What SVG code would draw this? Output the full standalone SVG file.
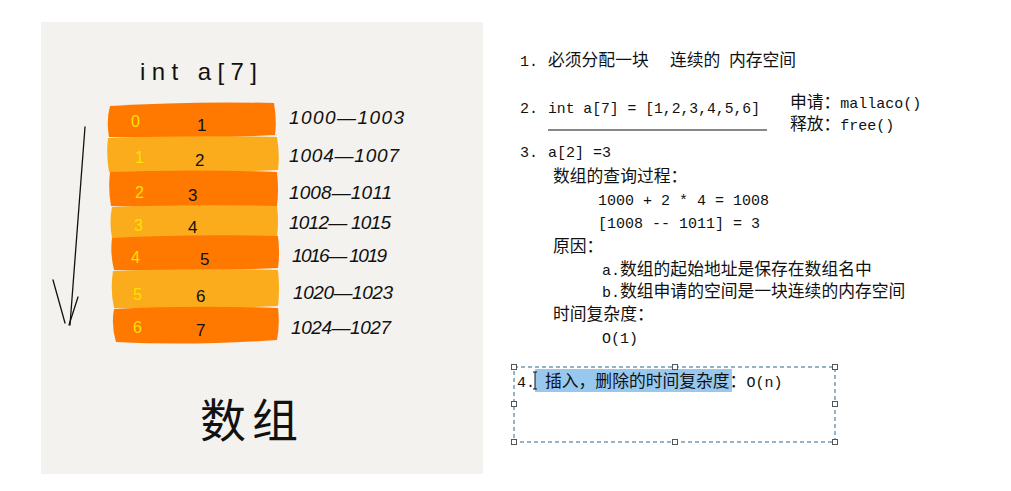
<svg xmlns="http://www.w3.org/2000/svg" width="1011" height="491" viewBox="0 0 1011 491">
<style>
.hand{font-family:"Liberation Sans","Noto Sans CJK SC",sans-serif;fill:#111}
.addr{font-family:"Liberation Sans",sans-serif;font-size:19px;fill:#111;font-style:italic}
.idx{font-family:"Liberation Sans",sans-serif;font-size:16px;fill:#ffe000}
.val{font-family:"Liberation Sans",sans-serif;font-size:17px;fill:#111}
.t{font-family:"Liberation Mono","Noto Sans CJK SC",monospace;font-size:15px;fill:#111}
.c{font-family:"Noto Sans CJK SC",sans-serif;font-size:16.8px}
.o{fill:#ff7800}
.y{fill:#fbac1c}
.h{fill:#fff;stroke:#555;stroke-width:1}
</style>
<rect x="0" y="0" width="1011" height="491" fill="#ffffff"/>
<g id="panel">
<rect x="41" y="22" width="442" height="452" fill="#f3f2ee"/>
<text class="hand" x="140" y="80" font-size="24" textLength="117" lengthAdjust="spacing">int a[7]</text>
</g>
<g id="bars">
<path class="o" d="M110,106 Q190,101 274,103 Q277,120 275,135 Q190,140 109,137 Q106,120 110,106 Z"/>
<path class="y" d="M108,138 Q190,135 277,137 Q280,155 278,170 Q190,174 109,172 Q106,155 108,138 Z"/>
<path class="o" d="M110,172 Q190,169 277,172 Q279,190 277,206 Q190,209 111,206 Q108,190 110,172 Z"/>
<path class="y" d="M112,207 Q190,204 277,206 Q279,222 277,237 Q190,240 112,238 Q109,222 112,207 Z"/>
<path class="o" d="M112,238 Q190,234 278,236 Q280,254 278,268 Q190,272 114,270 Q110,254 112,238 Z"/>
<path class="y" d="M113,271 Q190,268 278,270 Q280,290 278,306 Q190,310 114,308 Q110,290 113,271 Z"/>
<path class="o" d="M114,309 Q190,305 278,308 Q280,325 277,340 Q190,346 116,342 Q111,325 114,309 Z"/>
</g>
<g id="indices">
<text class="idx" x="131" y="127">0</text>
<text class="idx" x="135" y="163">1</text>
<text class="idx" x="135" y="198">2</text>
<text class="idx" x="134" y="231">3</text>
<text class="idx" x="131" y="263">4</text>
<text class="idx" x="133" y="300">5</text>
<text class="idx" x="133" y="333">6</text>
</g>
<g id="values">
<text class="val" x="197" y="131">1</text>
<text class="val" x="195" y="166">2</text>
<text class="val" x="188" y="201">3</text>
<text class="val" x="188" y="233">4</text>
<text class="val" x="200" y="265">5</text>
<text class="val" x="196" y="302">6</text>
<text class="val" x="196" y="336">7</text>
</g>
<g id="addresses">
<text class="addr" x="289" y="124" textLength="115" lengthAdjust="spacing">1000—1003</text>
<text class="addr" x="289" y="162" textLength="110" lengthAdjust="spacing">1004—1007</text>
<text class="addr" x="289" y="199" textLength="103" lengthAdjust="spacing">1008—1011</text>
<text class="addr" x="289" y="229" textLength="102" lengthAdjust="spacing">1012— 1015</text>
<text class="addr" x="292" y="262" textLength="95" lengthAdjust="spacing">1016— 1019</text>
<text class="addr" x="293" y="299" textLength="100" lengthAdjust="spacing">1020—1023</text>
<text class="addr" x="291" y="334" textLength="100" lengthAdjust="spacing">1024—1027</text>
</g>
<g id="connectors" fill="none" stroke="#111" stroke-width="1.3" stroke-linecap="round">
<path d="M85,127 L70,325"/>
<path d="M53,280 L65,323"/>
<path d="M78,297 L69,325"/>
</g>
<g id="caption">
<text class="hand" x="200" y="437" font-size="46" letter-spacing="6">数组</text>
</g>
<g id="notes">
<text class="t" x="520" y="66">1.</text>
<text class="t c" x="548" y="66">必须分配一块</text>
<text class="t c" x="670" y="66">连续的</text>
<text class="t c" x="729" y="66">内存空间</text>
<text class="t" x="520" y="113">2.</text>
<text class="t" x="548" y="113" textLength="212" lengthAdjust="spacingAndGlyphs">int a[7] = [1,2,3,4,5,6]</text>
<line x1="548" y1="130" x2="767" y2="130" stroke="#111" stroke-width="1"/>
<text class="t" x="790" y="108"><tspan class="c">申请：</tspan>mallaco()</text>
<text class="t" x="790" y="130"><tspan class="c">释放：</tspan>free()</text>
<text class="t" x="520" y="157">3.</text>
<text class="t" x="548" y="157">a[2] =3</text>
<text class="t c" x="553" y="182">数组的查询过程：</text>
<text class="t" x="598" y="205">1000 + 2 * 4 = 1008</text>
<text class="t" x="598" y="228">[1008 -- 1011]  = 3</text>
<text class="t c" x="553" y="252">原因：</text>
<text class="t" x="602" y="275">a.<tspan class="c">数组的起始地址是保存在数组名中</tspan></text>
<text class="t" x="602" y="297">b.<tspan class="c">数组申请的空间是一块连续的内存空间</tspan></text>
<text class="t c" x="553" y="320">时间复杂度：</text>
<text class="t" x="602" y="343">O(1)</text>
</g>
<g id="selection">
<rect x="535" y="369" width="197" height="23" fill="#99c8ef"/>
<rect x="514" y="367" width="321" height="75" fill="none" stroke="#2f6690" stroke-width="1" stroke-dasharray="4,3"/>
<rect class="h" x="511.5" y="364.5" width="5" height="5"/>
<rect class="h" x="672.5" y="364.5" width="5" height="5"/>
<rect class="h" x="832.5" y="364.5" width="5" height="5"/>
<rect class="h" x="511.5" y="401.5" width="5" height="5"/>
<rect class="h" x="832.5" y="401.5" width="5" height="5"/>
<rect class="h" x="511.5" y="439.5" width="5" height="5"/>
<rect class="h" x="672.5" y="439.5" width="5" height="5"/>
<rect class="h" x="832.5" y="439.5" width="5" height="5"/>
<text class="t" x="517" y="387">4.</text>
<path d="M533,372 h4 M535,372 v17 M533,389 h4" stroke="#111" stroke-width="1" fill="none"/>
<text class="t" x="545" y="387"><tspan class="c">插入，删除的时间复杂度：</tspan>O(n)</text>
</g>
</svg>
